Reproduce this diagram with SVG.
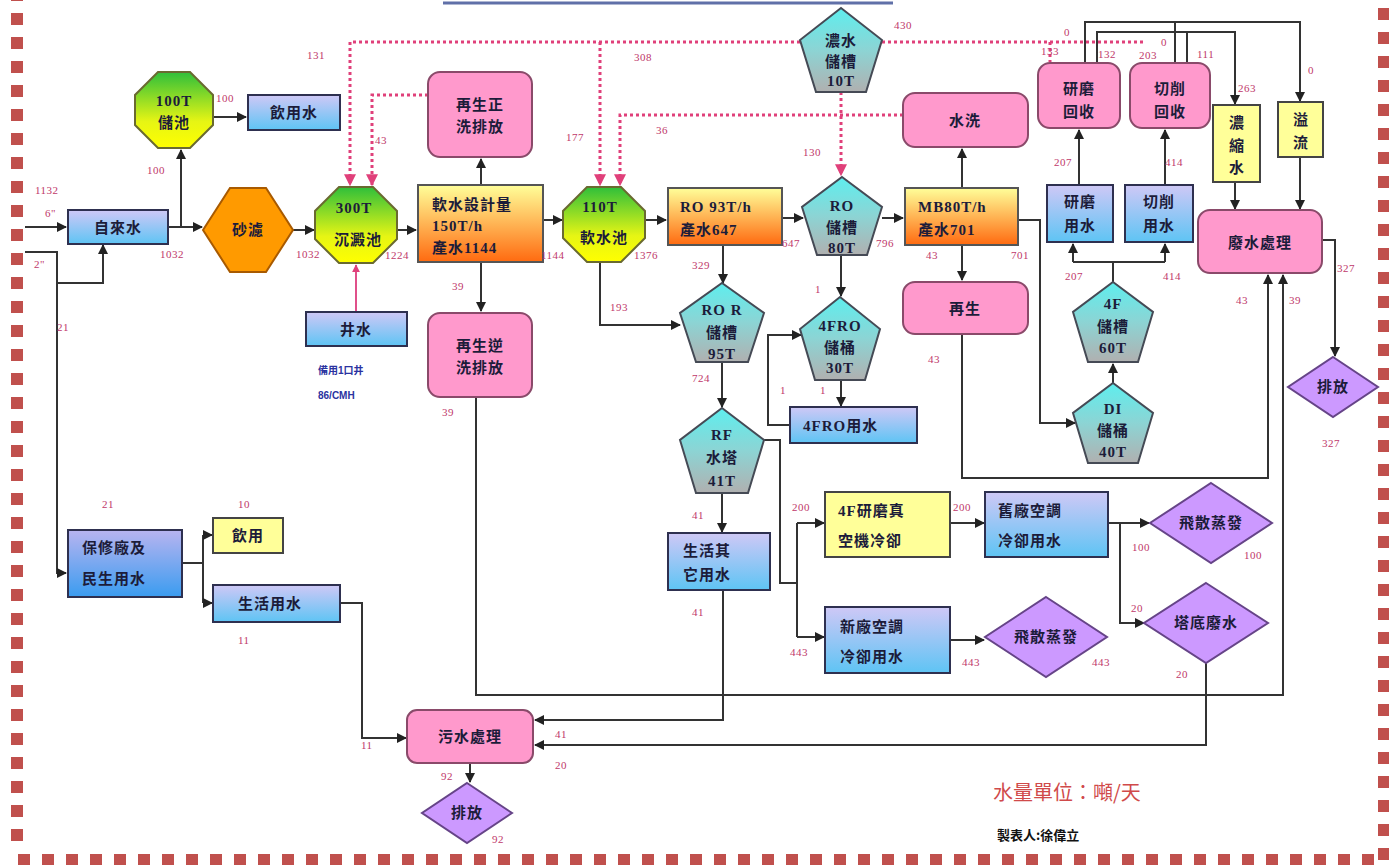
<svg xmlns="http://www.w3.org/2000/svg" width="1389" height="865" viewBox="0 0 1389 865">
<defs>
<linearGradient id="gBlue" x1="0" y1="0" x2="0" y2="1"><stop offset="0" stop-color="#cfc8f6"/><stop offset="1" stop-color="#5ec4f4"/></linearGradient>
<linearGradient id="gBlue2" x1="0" y1="0" x2="0" y2="1"><stop offset="0" stop-color="#b8b4f0"/><stop offset="1" stop-color="#3a9cf0"/></linearGradient>
<linearGradient id="gOct" x1="0" y1="0" x2="0" y2="1"><stop offset="0" stop-color="#2fbf3a"/><stop offset="0.65" stop-color="#e6f514"/><stop offset="1" stop-color="#ffff00"/></linearGradient>
<linearGradient id="gOrange" x1="0" y1="0" x2="0" y2="1"><stop offset="0" stop-color="#ffff99"/><stop offset="1" stop-color="#ff6a10"/></linearGradient>
<linearGradient id="gPen" x1="0" y1="0" x2="0" y2="1"><stop offset="0" stop-color="#5eeeee"/><stop offset="0.5" stop-color="#8cd4d4"/><stop offset="1" stop-color="#b0b0b0"/></linearGradient>
<marker id="ar" viewBox="0 0 10 10" refX="9" refY="5" markerWidth="5" markerHeight="5" orient="auto"><path d="M0,0 L10,5 L0,10 z" fill="#222"/></marker>
<marker id="arp" viewBox="0 0 10 10" refX="9" refY="5" markerWidth="4" markerHeight="4" orient="auto"><path d="M0,0 L10,5 L0,10 z" fill="#e0407a"/></marker>
<style>
.b{fill:url(#gBlue);stroke:#2e3050;stroke-width:2}
.b2{fill:url(#gBlue2);stroke:#2e3050;stroke-width:2}
.p{fill:#ff99cc;stroke:#8a4a6a;stroke-width:2}
.y{fill:#ffff99;stroke:#444;stroke-width:2}
.o{fill:url(#gOrange);stroke:#555;stroke-width:2}
.oct{fill:url(#gOct);stroke:#6a6a30;stroke-width:2}
.pen{fill:url(#gPen);stroke:#454a55;stroke-width:2}
.dia{fill:#cc99ff;stroke:#664488;stroke-width:2}
.hex{fill:#ff9a00;stroke:#a85a00;stroke-width:2}
.t{font-family:"Liberation Serif","Noto Sans CJK TC",serif;font-size:15px;font-weight:bold;fill:#1c1c3a;text-anchor:middle;letter-spacing:1px}
.tl{font-family:"Liberation Serif","Noto Sans CJK TC",serif;font-size:15px;font-weight:bold;fill:#1c1c3a;letter-spacing:1px}
.n{font-family:"Liberation Serif",serif;font-size:11px;fill:#c0386a;letter-spacing:0.5px}
.c{fill:none;stroke:#333;stroke-width:2}
.d{fill:none;stroke:#e0407a;stroke-width:3;stroke-dasharray:3 3}
.brd{fill:none;stroke:#c0504d;stroke-width:12;stroke-dasharray:12 12}
</style>
</defs>
<rect width="1389" height="865" fill="#ffffff"/>
<!-- border -->
<line class="brd" x1="17" y1="-11" x2="17" y2="850"/>
<line class="brd" x1="1384" y1="8" x2="1384" y2="865"/>
<line class="brd" x1="18" y1="860" x2="1380" y2="860"/>
<!-- title remnant -->
<line x1="443" y1="3" x2="893" y2="3" stroke="#6070a8" stroke-width="3"/>

<g id="connectors">
<path class="c" d="M25,227 H66" marker-end="url(#ar)"/>
<path class="c" d="M25,252 H57 V573 H66" marker-end="url(#ar)"/>
<path class="c" d="M57,283 H103 V245" marker-end="url(#ar)"/>
<path class="c" d="M167,227 H202" marker-end="url(#ar)"/>
<path class="c" d="M181,227 V150" marker-end="url(#ar)"/>
<path class="c" d="M213,117 H246" marker-end="url(#ar)"/>
<path class="c" d="M293,230 H314" marker-end="url(#ar)"/>
<path class="c" d="M397,230 H416" marker-end="url(#ar)"/>
<path class="c" d="M481,185 V159" marker-end="url(#ar)"/>
<path class="c" d="M481,262 V311" marker-end="url(#ar)"/>
<path class="c" d="M543,220 H562" marker-end="url(#ar)"/>
<path class="c" d="M645,220 H666" marker-end="url(#ar)"/>
<path class="c" d="M600,262 V325 H680" marker-end="url(#ar)"/>
<path class="c" d="M723,245 V283" marker-end="url(#ar)"/>
<path class="c" d="M782,218 H803" marker-end="url(#ar)"/>
<path class="c" d="M882,218 H903" marker-end="url(#ar)"/>
<path class="c" d="M841,255 V296" marker-end="url(#ar)"/>
<path class="c" d="M962,188 V149" marker-end="url(#ar)"/>
<path class="c" d="M962,245 V280" marker-end="url(#ar)"/>
<path class="c" d="M1018,220 H1040 V423 H1075" marker-end="url(#ar)"/>
<path class="c" d="M962,335 V478 H1268 V275" marker-end="url(#ar)"/>
<path class="c" d="M1113,383 V364" marker-end="url(#ar)"/>
<path class="c" d="M1113,282 V262 M1073,262 H1165"/>
<path class="c" d="M1073,262 V244" marker-end="url(#ar)"/>
<path class="c" d="M1165,262 V244" marker-end="url(#ar)"/>
<path class="c" d="M1079,185 V130" marker-end="url(#ar)"/>
<path class="c" d="M1165,185 V130" marker-end="url(#ar)"/>
<path class="c" d="M1085,63 V22 H1300 V101" marker-end="url(#ar)"/>
<path class="c" d="M1175,63 V22"/>
<path class="c" d="M1097,63 V32 H1235 V104" marker-end="url(#ar)"/>
<path class="c" d="M1187,63 V32"/>
<path class="c" d="M1235,182 V209" marker-end="url(#ar)"/>
<path class="c" d="M1300,157 V209" marker-end="url(#ar)"/>
<path class="c" d="M1322,240 H1335 V356" marker-end="url(#ar)"/>
<path class="c" d="M476,397 V695 H1283 V275" marker-end="url(#ar)"/>
<path d="M356,312 V265" fill="none" stroke="#e0508a" stroke-width="2" marker-end="url(#arp)"/>
<path class="c" d="M182,563 H203 M203,535 V603"/>
<path class="c" d="M203,535 H212" marker-end="url(#ar)"/>
<path class="c" d="M203,603 H212" marker-end="url(#ar)"/>
<path class="c" d="M340,603 H362 V738 H406" marker-end="url(#ar)"/>
<path class="c" d="M723,590 V720 H535" marker-end="url(#ar)"/>
<path class="c" d="M1206,663 V745 H535" marker-end="url(#ar)"/>
<path class="c" d="M470,763 V782" marker-end="url(#ar)"/>
<path class="c" d="M790,425 H768 V335 H801" marker-end="url(#ar)"/>
<path class="c" d="M841,380 V406" marker-end="url(#ar)"/>
<path class="c" d="M722,362 V407" marker-end="url(#ar)"/>
<path class="c" d="M722,493 V532" marker-end="url(#ar)"/>
<path class="c" d="M764,440 H780 V583 H797 M797,523 V637"/>
<path class="c" d="M797,523 H824" marker-end="url(#ar)"/>
<path class="c" d="M797,637 H824" marker-end="url(#ar)"/>
<path class="c" d="M950,523 H984" marker-end="url(#ar)"/>
<path class="c" d="M1108,523 H1149" marker-end="url(#ar)"/>
<path class="c" d="M1120,523 V623 H1144" marker-end="url(#ar)"/>
<path class="c" d="M950,640 H984" marker-end="url(#ar)"/>
<!-- dotted recycle lines -->
<path class="d" d="M800,42 H350 V185" marker-end="url(#arp)"/>
<path class="d" d="M600,42 V185" marker-end="url(#arp)"/>
<path class="d" d="M428,95 H372 V185" marker-end="url(#arp)"/>
<path class="d" d="M903,115 H620 V185" marker-end="url(#arp)"/>
<path class="d" d="M841,92 V175" marker-end="url(#arp)"/>
<path class="d" d="M882,42 H1143 M1050,42 V62"/>
</g>

<g id="n_tap"><rect class="b" x="68" y="210" width="100" height="34"/><text class="t" x="118" y="233">自來水</text></g>
<g id="n_100t"><polygon class="oct" points="158,72 190,72 213,95 213,125 190,148 158,148 135,125 135,95"/><text class="t" x="174" y="106">100T</text><text class="t" x="174" y="128">儲池</text></g>
<g id="n_drink"><rect class="b" x="248" y="95" width="92" height="35"/><text class="t" x="294" y="118">飲用水</text></g>
<g id="n_sand"><polygon class="hex" points="203,230 230,188 266,188 293,230 266,272 230,272"/><text class="t" x="248" y="235">砂濾</text></g>
<g id="n_300t"><polygon class="oct" points="339,187 373,187 397,211 397,239 373,263 339,263 315,239 315,211"/><text class="t" x="354" y="213">300T</text><text class="t" x="358" y="245">沉澱池</text></g>
<g id="n_well"><rect class="b" x="306" y="312" width="101" height="34"/><text class="t" x="356" y="335">井水</text></g>
<text x="318" y="374" font-family="Liberation Sans,Noto Sans CJK TC,sans-serif" font-size="10" font-weight="bold" fill="#2a32a0">備用1口井</text>
<text x="318" y="399" font-family="Liberation Sans,Noto Sans CJK TC,sans-serif" font-size="10" font-weight="bold" fill="#2a32a0">86/CMH</text>
<g id="n_soft"><rect class="o" x="418" y="185" width="125" height="77"/><text class="tl" x="432" y="210">軟水設計量</text><text class="tl" x="432" y="231">150T/h</text><text class="tl" x="432" y="253">產水1144</text></g>
<g id="n_rinse1"><rect class="p" x="428" y="72" width="104" height="85" rx="12"/><text class="t" x="480" y="110">再生正</text><text class="t" x="480" y="132">洗排放</text></g>
<g id="n_rinse2"><rect class="p" x="428" y="313" width="104" height="84" rx="12"/><text class="t" x="480" y="351">再生逆</text><text class="t" x="480" y="373">洗排放</text></g>
<g id="n_110t"><polygon class="oct" points="587,187 621,187 645,211 645,238 621,262 587,262 563,238 563,211"/><text class="t" x="600" y="212">110T</text><text class="t" x="604" y="243">軟水池</text></g>
<g id="n_ro"><rect class="o" x="668" y="188" width="114" height="57"/><text class="tl" x="680" y="212">RO 93T/h</text><text class="tl" x="680" y="235">產水647</text></g>
<g id="n_conc"><polygon class="pen" points="841,8 882,40 866,92 816,92 800,40"/><text class="t" x="841" y="46">濃水</text><text class="t" x="841" y="67">儲槽</text><text class="t" x="841" y="86">10T</text></g>
<g id="n_ro80"><polygon class="pen" points="842,177 882,207 867,255 817,255 802,207"/><text class="t" x="842" y="211">RO</text><text class="t" x="842" y="233">儲槽</text><text class="t" x="842" y="253">80T</text></g>
<g id="n_wash"><rect class="p" x="903" y="93" width="125" height="54" rx="12"/><text class="t" x="965" y="126">水洗</text></g>
<g id="n_mb"><rect class="o" x="905" y="188" width="113" height="57"/><text class="tl" x="918" y="212">MB80T/h</text><text class="tl" x="918" y="235">產水701</text></g>
<g id="n_regen"><rect class="p" x="903" y="282" width="125" height="52" rx="12"/><text class="t" x="965" y="314">再生</text></g>
<g id="n_grec"><rect class="p" x="1038" y="63" width="82" height="65" rx="12"/><text class="t" x="1079" y="94">研磨</text><text class="t" x="1079" y="117">回收</text></g>
<g id="n_crec"><rect class="p" x="1130" y="63" width="80" height="65" rx="12"/><text class="t" x="1170" y="94">切削</text><text class="t" x="1170" y="117">回收</text></g>
<g id="n_concw"><rect class="y" x="1213" y="105" width="47" height="77"/><text class="t" x="1237" y="128">濃</text><text class="t" x="1237" y="151">縮</text><text class="t" x="1237" y="173">水</text></g>
<g id="n_over"><rect class="y" x="1278" y="102" width="45" height="55"/><text class="t" x="1301" y="125">溢</text><text class="t" x="1301" y="148">流</text></g>
<g id="n_guse"><rect class="b" x="1047" y="185" width="66" height="57"/><text class="t" x="1080" y="207">研磨</text><text class="t" x="1080" y="231">用水</text></g>
<g id="n_cuse"><rect class="b" x="1125" y="185" width="68" height="57"/><text class="t" x="1159" y="207">切削</text><text class="t" x="1159" y="231">用水</text></g>
<g id="n_waste"><rect class="p" x="1198" y="210" width="124" height="63" rx="12"/><text class="t" x="1260" y="248">廢水處理</text></g>
<g id="n_4f60"><polygon class="pen" points="1113,282 1153,312 1138,362 1088,362 1073,312"/><text class="t" x="1113" y="309">4F</text><text class="t" x="1113" y="332">儲槽</text><text class="t" x="1113" y="353">60T</text></g>
<g id="n_di"><polygon class="pen" points="1113,383 1153,413 1138,463 1088,463 1073,413"/><text class="t" x="1113" y="414">DI</text><text class="t" x="1113" y="436">儲桶</text><text class="t" x="1113" y="457">40T</text></g>
<g id="n_out1"><polygon class="dia" points="1333,357 1378,387 1333,417 1288,387"/><text class="t" x="1333" y="392">排放</text></g>
<g id="n_ror"><polygon class="pen" points="722,283 764,313 748,362 696,362 680,313"/><text class="t" x="722" y="315">RO R</text><text class="t" x="722" y="338">儲槽</text><text class="t" x="722" y="359">95T</text></g>
<g id="n_4fro"><polygon class="pen" points="840,297 880,329 865,380 815,380 800,329"/><text class="t" x="840" y="331">4FRO</text><text class="t" x="840" y="353">儲桶</text><text class="t" x="840" y="373">30T</text></g>
<g id="n_4frouse"><rect class="b" x="790" y="407" width="127" height="36"/><text class="tl" x="803" y="431">4FRO用水</text></g>
<g id="n_rf"><polygon class="pen" points="722,408 764,440 748,493 696,493 680,440"/><text class="t" x="722" y="440">RF</text><text class="t" x="722" y="463">水塔</text><text class="t" x="722" y="486">41T</text></g>
<g id="n_life2"><rect class="b" x="668" y="533" width="102" height="57"/><text class="tl" x="683" y="556">生活其</text><text class="tl" x="683" y="580">它用水</text></g>
<g id="n_4fvac"><rect class="y" x="825" y="492" width="125" height="65"/><text class="tl" x="838" y="516">4F研磨真</text><text class="tl" x="838" y="546">空機冷卻</text></g>
<g id="n_oldac"><rect class="b" x="985" y="492" width="123" height="65"/><text class="tl" x="998" y="516">舊廠空調</text><text class="tl" x="998" y="546">冷卻用水</text></g>
<g id="n_evap1"><polygon class="dia" points="1211,483 1272,523 1211,563 1150,523"/><text class="t" x="1211" y="528">飛散蒸發</text></g>
<g id="n_tower"><polygon class="dia" points="1206,583 1268,623 1206,663 1144,623"/><text class="t" x="1206" y="628">塔底廢水</text></g>
<g id="n_newac"><rect class="b" x="825" y="607" width="125" height="66"/><text class="tl" x="840" y="632">新廠空調</text><text class="tl" x="840" y="662">冷卻用水</text></g>
<g id="n_evap2"><polygon class="dia" points="1046,597 1107,637 1046,677 985,637"/><text class="t" x="1046" y="642">飛散蒸發</text></g>
<g id="n_shop"><rect class="b2" x="68" y="530" width="114" height="67"/><text class="tl" x="82" y="553">保修廠及</text><text class="tl" x="82" y="584">民生用水</text></g>
<g id="n_drink2"><rect class="y" x="213" y="518" width="70" height="35"/><text class="t" x="248" y="541">飲用</text></g>
<g id="n_life"><rect class="b" x="213" y="585" width="127" height="37"/><text class="t" x="270" y="609">生活用水</text></g>
<g id="n_sewage"><rect class="p" x="407" y="710" width="126" height="53" rx="10"/><text class="t" x="470" y="742">污水處理</text></g>
<g id="n_out2"><polygon class="dia" points="467,783 512,813 467,843 422,813"/><text class="t" x="467" y="818">排放</text></g>

<g id="labels">
<text class="n" x="35" y="194">1132</text>
<text class="n" x="45" y="217">6"</text>
<text class="n" x="34" y="268">2"</text>
<text class="n" x="57" y="331">21</text>
<text class="n" x="147" y="174">100</text>
<text class="n" x="160" y="258">1032</text>
<text class="n" x="216" y="102">100</text>
<text class="n" x="307" y="59">131</text>
<text class="n" x="375" y="144">43</text>
<text class="n" x="296" y="258">1032</text>
<text class="n" x="385" y="259">1224</text>
<text class="n" x="452" y="290">39</text>
<text class="n" x="541" y="259">1144</text>
<text class="n" x="566" y="141">177</text>
<text class="n" x="634" y="61">308</text>
<text class="n" x="656" y="134">36</text>
<text class="n" x="634" y="259">1376</text>
<text class="n" x="610" y="311">193</text>
<text class="n" x="692" y="269">329</text>
<text class="n" x="782" y="247">647</text>
<text class="n" x="876" y="247">796</text>
<text class="n" x="803" y="156">130</text>
<text class="n" x="894" y="29">430</text>
<text class="n" x="926" y="259">43</text>
<text class="n" x="1011" y="259">701</text>
<text class="n" x="815" y="293">1</text>
<text class="n" x="928" y="363">43</text>
<text class="n" x="692" y="382">724</text>
<text class="n" x="780" y="394">1</text>
<text class="n" x="820" y="394">1</text>
<text class="n" x="692" y="519">41</text>
<text class="n" x="692" y="616">41</text>
<text class="n" x="792" y="511">200</text>
<text class="n" x="953" y="511">200</text>
<text class="n" x="790" y="656">443</text>
<text class="n" x="962" y="666">443</text>
<text class="n" x="1092" y="666">443</text>
<text class="n" x="1132" y="551">100</text>
<text class="n" x="1244" y="559">100</text>
<text class="n" x="1131" y="612">20</text>
<text class="n" x="1176" y="678">20</text>
<text class="n" x="442" y="416">39</text>
<text class="n" x="1289" y="304">39</text>
<text class="n" x="1236" y="304">43</text>
<text class="n" x="1337" y="272">327</text>
<text class="n" x="1322" y="447">327</text>
<text class="n" x="1054" y="166">207</text>
<text class="n" x="1165" y="166">414</text>
<text class="n" x="1065" y="280">207</text>
<text class="n" x="1163" y="280">414</text>
<text class="n" x="1041" y="55">133</text>
<text class="n" x="1064" y="36">0</text>
<text class="n" x="1098" y="58">132</text>
<text class="n" x="1139" y="59">203</text>
<text class="n" x="1161" y="46">0</text>
<text class="n" x="1197" y="58">111</text>
<text class="n" x="1238" y="92">263</text>
<text class="n" x="1308" y="74">0</text>
<text class="n" x="102" y="508">21</text>
<text class="n" x="238" y="508">10</text>
<text class="n" x="238" y="644">11</text>
<text class="n" x="361" y="749">11</text>
<text class="n" x="555" y="738">41</text>
<text class="n" x="555" y="769">20</text>
<text class="n" x="441" y="780">92</text>
<text class="n" x="492" y="843">92</text>
</g>

<g id="legend">
<text x="993" y="800" font-family="Noto Sans CJK TC,sans-serif" font-size="20" fill="#d04a4a">水量單位：噸/天</text>
<text x="997" y="840" font-family="Noto Sans CJK TC,sans-serif" font-size="13" font-weight="bold" fill="#111">製表人:徐偉立</text>
</g>
</svg>
